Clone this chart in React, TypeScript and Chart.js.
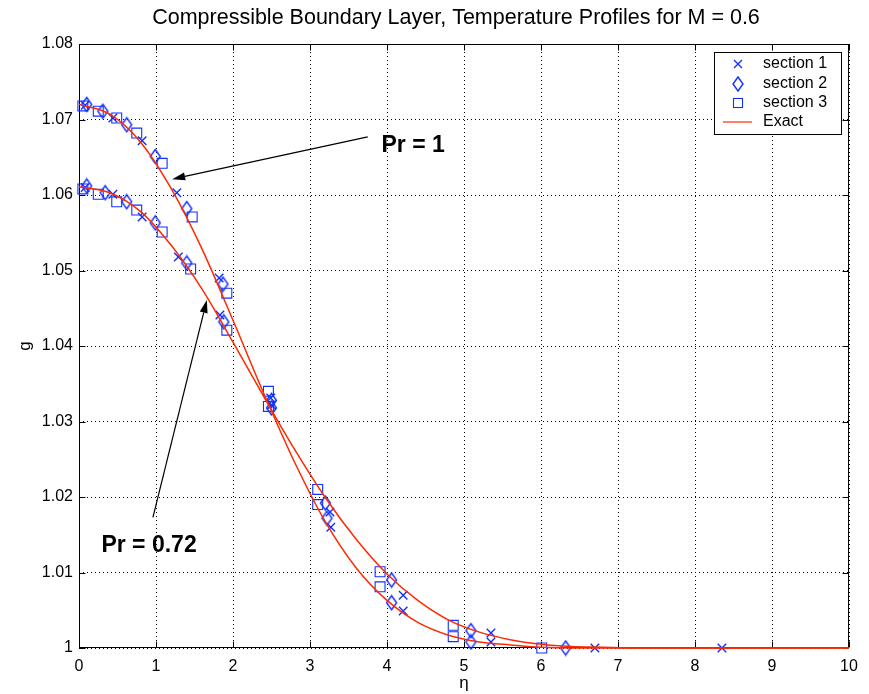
import React, { useEffect, useRef } from 'react';
import { Chart, registerables } from 'chart.js';
Chart.register(...registerables);

// ---------- data ----------
const etaExact = [0, 0.4, 0.8, 1.2, 1.6, 2.0, 2.4, 2.8, 3.2, 3.6, 4.0, 4.4, 4.8, 5.2, 5.6, 6.0, 6.4, 6.8, 7.2, 8, 9, 10];
const gExactPr1 = [1.0720, 1.0707, 1.0670, 1.0608, 1.0528, 1.0434, 1.0337, 1.0246, 1.0167, 1.0106, 1.0063, 1.0034, 1.0017, 1.0008, 1.0004, 1.0001, 1.0000, 1.0, 1.0, 1.0, 1.0, 1.0];
const gExactPr072 = [1.0611, 1.0603, 1.0578, 1.0533, 1.0475, 1.0405, 1.0333, 1.0263, 1.0199, 1.0144, 1.0098, 1.0063, 1.0037, 1.0021, 1.0011, 1.0005, 1.0002, 1.0001, 1.0, 1.0, 1.0, 1.0];

const sec1Eta = [0.08, 0.44, 0.82, 1.27, 1.82, 2.49, 3.27, 4.21, 5.35, 6.70, 8.35, 0.08, 0.44, 0.82, 1.29, 1.83, 2.50, 3.26, 4.21, 5.35];
const sec1G = [1.0719, 1.0702, 1.0672, 1.0603, 1.0490, 1.0331, 1.0160, 1.0049, 1.0008, 1.0000, 1.0000, 1.0610, 1.0601, 1.0571, 1.0518, 1.0441, 1.0322, 1.0180, 1.0070, 1.0020];

const sec2Eta = [0.10, 0.31, 0.62, 0.99, 1.40, 1.87, 2.50, 3.22, 4.06, 5.09, 6.32, 0.10, 0.34, 0.62, 0.99, 1.40, 1.88, 2.50, 3.20, 4.06, 5.09];
const sec2G = [1.0720, 1.0711, 1.0693, 1.0651, 1.0582, 1.0482, 1.0318, 1.0172, 1.0060, 1.0008, 1.0000, 1.0612, 1.0603, 1.0591, 1.0563, 1.0510, 1.0432, 1.0328, 1.0192, 1.0090, 1.0023];

const sec3Eta = [0.05, 0.25, 0.49, 0.75, 1.08, 1.47, 1.92, 2.46, 3.10, 3.91, 4.86, 6.01, 0.05, 0.25, 0.49, 0.75, 1.08, 1.45, 1.92, 2.46, 3.10, 3.91, 4.86];
const sec3G = [1.0718, 1.0711, 1.0702, 1.0682, 1.0642, 1.0571, 1.0470, 1.0320, 1.0190, 1.0081, 1.0015, 1.0000, 1.0608, 1.0601, 1.0591, 1.0580, 1.0551, 1.0502, 1.0421, 1.0340, 1.0210, 1.0101, 1.0030];

const xTickValues = [0, 1, 2, 3, 4, 5, 6, 7, 8, 9, 10];
const xTickLabels = ['0', '1', '2', '3', '4', '5', '6', '7', '8', '9', '10'];
const yTickValues = [1, 1.01, 1.02, 1.03, 1.04, 1.05, 1.06, 1.07, 1.08];
const yTickLabels = ['1', '1.01', '1.02', '1.03', '1.04', '1.05', '1.06', '1.07', '1.08'];

const legendLabels = ['section 1', 'section 2', 'section 3', 'Exact'];
const titleText = 'Compressible Boundary Layer, Temperature Profiles for M = 0.6';
const xLabel = 'η';
const yLabel = 'g';
const annoPr1 = 'Pr = 1';
const annoPr072 = 'Pr = 0.72';

// ---------- styles ----------
const FONT = '"Liberation Sans", Arial, sans-serif';
const BLUE = '#1030ff';
const RED = '#ff2a00';

function makeDiamond(): HTMLCanvasElement {
  const c = document.createElement('canvas');
  c.width = 13; c.height = 17;
  const g = c.getContext('2d')!;
  g.strokeStyle = BLUE; g.lineWidth = 1.4;
  g.beginPath();
  g.moveTo(6.5, 1.5); g.lineTo(11.5, 8.5); g.lineTo(6.5, 15.5); g.lineTo(1.5, 8.5); g.closePath();
  g.stroke();
  return c;
}

function zip(xs: number[], ys: number[]) {
  return xs.map((v, i) => ({ x: v, y: ys[i] }));
}

const overlay = {
  id: 'overlay',
  beforeDatasetsDraw(chart: any) {
    const { ctx, chartArea: a, scales } = chart;
    const x = scales.x, y = scales.y;
    ctx.save();
    ctx.setLineDash([]);
    ctx.strokeStyle = '#000';
    ctx.lineWidth = 1;
    const L = Math.round(a.left) + 0.5, R = Math.round(a.right) - 0.5, T = Math.round(a.top) + 0.5, B = Math.round(a.bottom) - 0.5;
    ctx.strokeRect(L, T, R - L, B - T);
    ctx.beginPath();
    xTickValues.forEach((v) => {
      const p = Math.round(x.getPixelForValue(v)) + 0.5;
      ctx.moveTo(p, B); ctx.lineTo(p, B - 6);
      ctx.moveTo(p, T); ctx.lineTo(p, T + 6);
    });
    yTickValues.forEach((v) => {
      const p = Math.round(y.getPixelForValue(v)) + 0.5;
      ctx.moveTo(L, p); ctx.lineTo(L + 6, p);
      ctx.moveTo(R, p); ctx.lineTo(R - 6, p);
    });
    ctx.stroke();
    ctx.restore();
  },
  afterDraw(chart: any) {
    const { ctx, chartArea: a, scales } = chart;
    const x = scales.x, y = scales.y;
    ctx.save();
    ctx.fillStyle = '#000';
    // title
    ctx.font = `21.5px ${FONT}`;
    ctx.textAlign = 'center';
    ctx.textBaseline = 'middle';
    ctx.fillText(titleText, 456, 18);
    // axis labels
    ctx.font = `17px ${FONT}`;
    ctx.fillText(xLabel, (a.left + a.right) / 2, 683);
    ctx.save();
    ctx.translate(25, (a.top + a.bottom) / 2);
    ctx.rotate(-Math.PI / 2);
    ctx.fillText(yLabel, 0, 0);
    ctx.restore();

    // arrows
    const arrow = (x0: number, y0: number, x1: number, y1: number) => {
      const px0 = x.getPixelForValue(x0), py0 = y.getPixelForValue(y0);
      const px1 = x.getPixelForValue(x1), py1 = y.getPixelForValue(y1);
      const ang = Math.atan2(py1 - py0, px1 - px0);
      const hl = 13, hw = 4;
      const bx = px1 - hl * Math.cos(ang), by = py1 - hl * Math.sin(ang);
      ctx.strokeStyle = '#000';
      ctx.lineWidth = 1.2;
      ctx.beginPath();
      ctx.moveTo(px0, py0); ctx.lineTo(bx, by);
      ctx.stroke();
      ctx.beginPath();
      ctx.moveTo(px1, py1);
      ctx.lineTo(bx + hw * Math.sin(ang), by - hw * Math.cos(ang));
      ctx.lineTo(bx - hw * Math.sin(ang), by + hw * Math.cos(ang));
      ctx.closePath();
      ctx.fill();
    };
    arrow(3.75, 1.0677, 1.21, 1.0621);
    arrow(0.96, 1.0173, 1.66, 1.0461);
    ctx.font = `bold 23px ${FONT}`;
    ctx.textAlign = 'center';
    ctx.textBaseline = 'middle';
    ctx.fillText(annoPr1, x.getPixelForValue(4.34), y.getPixelForValue(1.0666));
    ctx.fillText(annoPr072, x.getPixelForValue(0.91), y.getPixelForValue(1.0135));

    // legend
    const lx = 714, ly = 52, lw = 127, lh = 82;
    ctx.fillStyle = '#fff';
    ctx.fillRect(lx, ly, lw, lh);
    ctx.strokeStyle = '#000';
    ctx.lineWidth = 1;
    ctx.strokeRect(lx + 0.5, ly + 0.5, lw, lh);
    const rows = [64, 84, 103, 122];
    ctx.font = `16px ${FONT}`;
    ctx.textAlign = 'left';
    ctx.textBaseline = 'middle';
    rows.forEach((ry, i) => {
      ctx.fillStyle = '#000';
      ctx.fillText(legendLabels[i], 763, ry);
      const mx = 738;
      ctx.strokeStyle = BLUE;
      ctx.lineWidth = 1.4;
      ctx.beginPath();
      if (i === 0) {
        ctx.moveTo(mx - 4, ry - 4); ctx.lineTo(mx + 4, ry + 4);
        ctx.moveTo(mx + 4, ry - 4); ctx.lineTo(mx - 4, ry + 4);
        ctx.stroke();
      } else if (i === 1) {
        ctx.moveTo(mx, ry - 7); ctx.lineTo(mx + 5, ry); ctx.lineTo(mx, ry + 7); ctx.lineTo(mx - 5, ry); ctx.closePath();
        ctx.stroke();
      } else if (i === 2) {
        ctx.lineWidth = 1.1;
        ctx.strokeRect(mx - 4.5, ry - 4.5, 9, 9);
      } else {
        ctx.strokeStyle = RED;
        ctx.lineWidth = 1.2;
        ctx.moveTo(723, ry); ctx.lineTo(752, ry);
        ctx.stroke();
      }
    });
    ctx.restore();
  },
};

export default function App() {
  const ref = useRef<HTMLCanvasElement>(null);
  useEffect(() => {
    const canvas = ref.current!;
    Chart.defaults.font.family = FONT;
    const diamond = makeDiamond();
    const markerBase = { showLine: false, clip: false as any, pointBackgroundColor: 'rgba(0,0,0,0)', backgroundColor: 'rgba(0,0,0,0)', pointBorderColor: BLUE, borderColor: BLUE };
    const lineBase = { showLine: true, pointRadius: 0, borderColor: RED, borderWidth: 1.5, cubicInterpolationMode: 'monotone' as const, clip: false as any };
    const chart = new Chart(canvas, {
      type: 'scatter',
      data: {
        datasets: [
          { ...lineBase, label: 'Exact Pr=1', data: zip(etaExact, gExactPr1) },
          { ...lineBase, label: 'Exact Pr=0.72', data: zip(etaExact, gExactPr072) },
          { ...markerBase, label: legendLabels[0], data: zip(sec1Eta, sec1G), pointStyle: 'crossRot', pointRadius: 6, pointBorderWidth: 1.4 },
          { ...markerBase, label: legendLabels[1], data: zip(sec2Eta, sec2G), pointStyle: diamond as any, pointRadius: 6 },
          { ...markerBase, label: legendLabels[2], data: zip(sec3Eta, sec3G), pointStyle: 'rect', pointRadius: 7, pointBorderWidth: 1.1 },
        ] as any,
      },
      options: {
        animation: false,
        responsive: false,
        devicePixelRatio: 1,
        layout: { padding: { top: 44, right: 20, left: 0, bottom: 0 } },
        plugins: { legend: { display: false }, tooltip: { enabled: false }, title: { display: false } },
        scales: {
          x: {
            type: 'linear', min: 0, max: 10,
            afterBuildTicks: (s: any) => { s.ticks = xTickValues.map((v) => ({ value: v })); },
            afterFit: (s: any) => { s.height = 46; },
            ticks: { padding: 9, color: '#000', font: { size: 16 }, maxRotation: 0, callback: (_v: any, i: number) => xTickLabels[i] },
            grid: { color: '#000', lineWidth: 1, drawTicks: false },
            border: { display: false, dash: [1, 3] },
          },
          y: {
            type: 'linear', min: 1, max: 1.08,
            afterBuildTicks: (s: any) => { s.ticks = yTickValues.map((v) => ({ value: v })); },
            afterFit: (s: any) => { s.width = 79; },
            ticks: { padding: 6, color: '#000', font: { size: 16 }, callback: (_v: any, i: number) => yTickLabels[i] },
            grid: { color: '#000', lineWidth: 1, drawTicks: false },
            border: { display: false, dash: [1, 3] },
          },
        },
      },
      plugins: [overlay],
    });
    return () => chart.destroy();
  }, []);
  return (
    <div style={{ position: 'fixed', left: 0, top: 0, width: 869, height: 694, background: '#fff' }}>
      <canvas ref={ref} width={869} height={694} style={{ width: 869, height: 694 }} />
    </div>
  );
}
